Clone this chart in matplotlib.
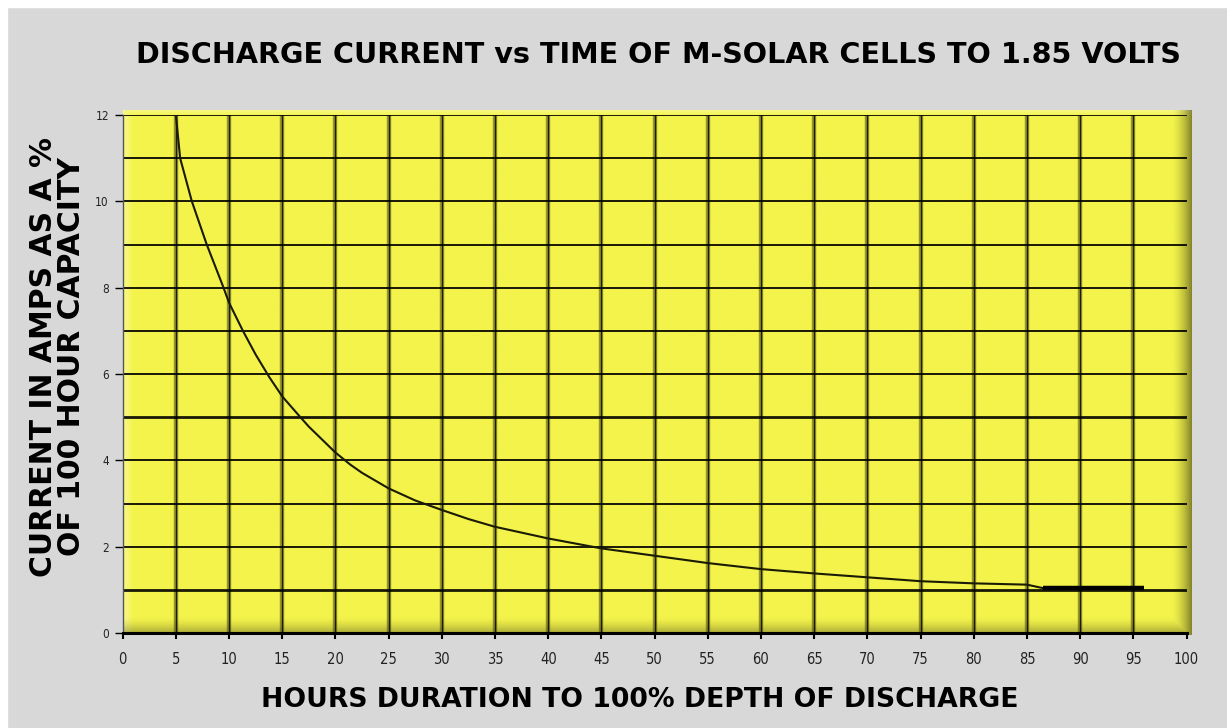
import numpy as np
import matplotlib
matplotlib.use('Agg')
import matplotlib.pyplot as plt

# ── data ────────────────────────────────────────────────────
hours = [5, 5.2, 5.4, 6.5, 7.9, 9.4, 10, 11.3, 12.5, 13.8, 15, 16.7, 17.5, 20,
         21.4, 22.5, 25, 27.5, 30, 32.5, 35, 40, 45, 50, 55, 60, 65, 70, 75,
         80, 85, 86.5]
current = [12, 11.5, 11, 10, 9, 8.05, 7.65, 7, 6.45, 5.92, 5.48, 5, 4.78, 4.18,
           3.9, 3.71, 3.35, 3.07, 2.85, 2.64, 2.46, 2.19, 1.96, 1.79, 1.62, 1.48,
           1.38, 1.29, 1.2, 1.15, 1.12, 1.04]
tail_hours = [86.5, 96]
tail_current = [1.04, 1.04]

x_ticks = list(range(0, 101, 5))
y_ticks = list(range(0, 13, 2))
h_grid = list(range(1, 13))
v_grid = list(range(5, 100, 5))

TITLE = 'DISCHARGE CURRENT vs TIME OF M-SOLAR CELLS TO 1.85 VOLTS'
XLABEL = 'HOURS DURATION TO 100% DEPTH OF DISCHARGE'
YLABEL = 'CURRENT IN AMPS AS A %\nOF 100 HOUR CAPACITY'

GREY = '#d8d8d8'
YELLOW = np.array([243, 243, 76]) / 255.0

fig = plt.figure(figsize=(12.27, 7.28), dpi=100, facecolor=GREY)
# white strip along top and left edge
fig.patches.append(plt.Rectangle((0, 1 - 7 / 728), 1, 7 / 728, transform=fig.transFigure,
                                 color='white', zorder=0))
fig.patches.append(plt.Rectangle((0, 0), 7 / 1227, 1, transform=fig.transFigure,
                                 color='white', zorder=0))

ax = fig.add_axes([0.1, 0.1305, 0.867, 0.7115])
ax.set_xlim(0, 100)
ax.set_ylim(0, 12)

# yellow panel with bevelled edges
H, W = 520, 1064
yy, xx = np.mgrid[0:H, 0:W]
img = np.ones((H, W, 3)) * YELLOW
dr = (W - 1 - xx) / 20.0
db = (H - 1 - yy) / 18.0
dl = xx / 10.0
dt = yy / 6.0
dark = np.maximum(np.clip(1 - dr, 0, 1) ** 1.6 * 0.45, np.clip(1 - db, 0, 1) ** 1.6 * 0.35)
light = np.maximum(np.clip(1 - dl, 0, 1) * 0.45, np.clip(1 - dt, 0, 1) * 0.35)
img = img * (1 - dark[..., None]) + \
      light[..., None] * (np.array([1, 1, 0.85]) - img) * (1 - dark[..., None])
ax.imshow(np.clip(img, 0, 1), extent=[0, 100.4, -0.05, 12.1], aspect='auto',
          zorder=0, clip_on=False)

for v in v_grid:
    ax.axvline(v, color='#4a4a10', lw=3.2, alpha=0.55, zorder=1)
    ax.axvline(v, color='black', lw=1.0, alpha=0.8, zorder=1)
for h in h_grid:
    lw = 2.0 if h in (1, 5) else 1.4
    ax.axhline(h, color='black', lw=lw, alpha=0.9, zorder=1)

ax.plot(hours, current, color='#1a1a05', lw=1.5, zorder=3)
ax.plot(tail_hours, tail_current, color='black', lw=3.2, zorder=3, solid_capstyle='butt')

for s in ('top', 'right'):
    ax.spines[s].set_visible(False)
ax.spines['bottom'].set_linewidth(2.2)
ax.spines['bottom'].set_color('black')
ax.spines['left'].set_linewidth(1.0)
ax.spines['left'].set_color('#555555')

ax.set_xticks(x_ticks)
ax.set_yticks(y_ticks)
ax.set_xticklabels([str(t) for t in x_ticks], family='DejaVu Sans', fontstretch='condensed',
                   fontsize=10.5, color='#222222')
ax.set_yticklabels([str(t) for t in y_ticks], family='DejaVu Sans', fontstretch='condensed',
                   fontsize=8.5, color='#222222')
ax.tick_params(axis='x', length=4, width=1.5, pad=10)
ax.tick_params(axis='y', length=6, width=1.0, pad=4)

fig.text(0.537, 0.924, TITLE, ha='center', va='center', fontsize=20.6,
         fontweight='bold', family='DejaVu Sans')
fig.text(0.521, 0.038, XLABEL, ha='center', va='center', fontsize=19.2,
         fontweight='bold', family='DejaVu Sans')
fig.text(0.047, 0.51, YLABEL, ha='center', va='center', rotation=90, fontsize=21.5,
         fontweight='bold', family='DejaVu Sans', linespacing=0.95)

fig.savefig('out.png', dpi=100, facecolor=GREY)
